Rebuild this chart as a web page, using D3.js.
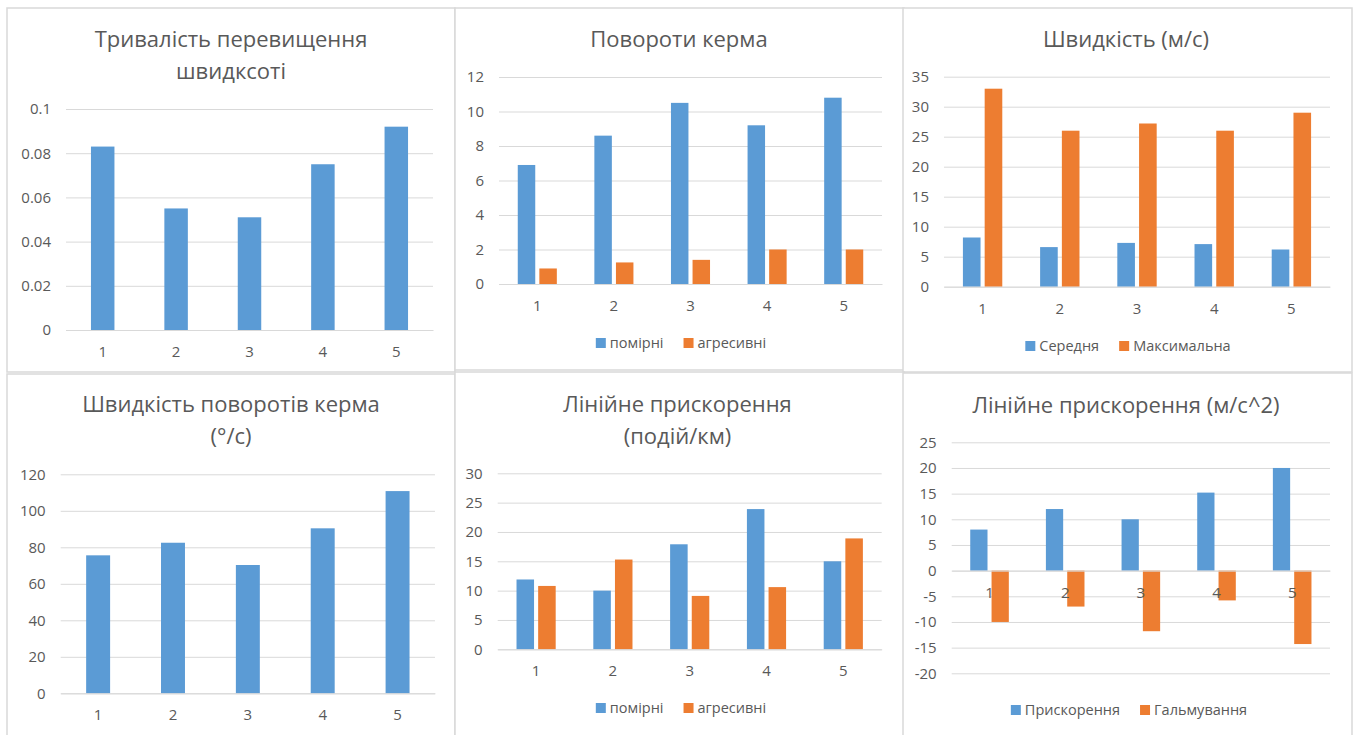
<!DOCTYPE html>
<html><head><meta charset="utf-8">
<script src="https://cdn.jsdelivr.net/npm/d3@7"></script>
<style>
html,body{margin:0;padding:0;background:#fff;}
svg{display:block;font-family:"Open Sans",sans-serif;}
</style></head>
<body>
<svg id="c" width="1357" height="735"></svg>
<script>
// ---- data ----
const categories = ["1","2","3","4","5"];

const overspeedTitle = ["Тривалість перевищення","швидксоті"];
const overspeedValues = [0.083, 0.055, 0.051, 0.075, 0.092];
const overspeedTicks = [0, 0.02, 0.04, 0.06, 0.08, 0.1];

const steerTitle = ["Повороти керма"];
const steerSeries = ["помірні","агресивні"];
const steerModerate = [6.9, 8.6, 10.5, 9.2, 10.8];
const steerAggressive = [0.9, 1.25, 1.4, 2.0, 2.0];
const steerTicks = [0, 2, 4, 6, 8, 10, 12];

const speedTitle = ["Швидкість (м/с)"];
const speedSeries = ["Середня","Максимальна"];
const speedAvg = [8.2, 6.6, 7.3, 7.1, 6.2];
const speedMax = [33, 26, 27.2, 26, 29];
const speedTicks = [0, 5, 10, 15, 20, 25, 30, 35];

const steerRateTitle = ["Швидкість поворотів керма","(°/с)"];
const steerRateValues = [75.6, 82.5, 70.3, 90.4, 110.8];
const steerRateTicks = [0, 20, 40, 60, 80, 100, 120];

const accelEvTitle = ["Лінійне прискорення","(подій/км)"];
const accelEvSeries = ["помірні","агресивні"];
const accelEvModerate = [11.9, 10, 17.9, 23.9, 15];
const accelEvAggressive = [10.8, 15.3, 9.1, 10.6, 18.9];
const accelEvTicks = [0, 5, 10, 15, 20, 25, 30];

const accelTitle = ["Лінійне прискорення (м/с^2)"];
const accelSeries = ["Прискорення","Гальмування"];
const accelPos = [8, 12, 10, 15.2, 20];
const accelNeg = [-10, -7, -11.8, -5.8, -14.3];
const accelTicks = [-20, -15, -10, -5, 0, 5, 10, 15, 20, 25];

// ---- style ----
const BLUE = "#5B9BD5", ORANGE = "#ED7D31", TXT = "#595959", GRID = "#d9d9d9";

const svg = d3.select("#c");

function panel(cfg){
  const g = svg.append("g");
  const [bx0, by0, bx1, by1] = cfg.box;
  g.append("rect").attr("x",bx0).attr("y",by0).attr("width",bx1-bx0).attr("height",by1-by0)
    .attr("fill","#fff").attr("stroke",GRID).attr("stroke-width",1.5);

  // title
  const cx = cfg.titleX;
  cfg.title.forEach((t,i)=>{
    g.append("text").attr("x",cx).attr("y",cfg.titleY + i*32)
      .attr("text-anchor","middle").attr("fill",TXT).attr("font-size",22).text(t);
  });

  const [px0, px1, pyTop, pyBot] = cfg.plot;
  const y = d3.scaleLinear().domain(d3.extent(cfg.ticks)).range([pyBot, pyTop]);
  const x = d3.scaleBand().domain(categories).range([px0, px1]).paddingInner(0).paddingOuter(0);

  // gridlines
  const yAxis = d3.axisLeft(y).tickValues(cfg.ticks).tickSize(-(px1-px0))
      .tickPadding(15).tickFormat(v => String(+v.toFixed(4)));
  const ya = g.append("g").attr("transform",`translate(${px0},0)`).call(yAxis);
  ya.select(".domain").remove();
  ya.selectAll(".tick line").attr("stroke",GRID).attr("stroke-width",1);
  ya.selectAll(".tick text").attr("fill",TXT).attr("font-size",15).attr("font-family","Open Sans");

  // bars
  const n = cfg.series.length;
  if(n === 1){
    const bw = x.bandwidth()*0.32;
    const vals = cfg.series[0].values;
    g.selectAll(null).data(vals).enter().append("rect")
      .attr("x",(d,i)=>x(categories[i]) + x.bandwidth()/2 - bw/2)
      .attr("width",bw)
      .attr("y",d=>y(Math.max(0,d)))
      .attr("height",d=>Math.abs(y(d)-y(0)))
      .attr("fill",cfg.series[0].color);
  } else {
    const w = x.bandwidth()*0.51;
    cfg.series.forEach((s,si)=>{
      g.selectAll(null).data(s.values).enter().append("rect")
        .attr("x",(d,i)=>{
          const c = x(categories[i]) + x.bandwidth()/2;
          const sub = d3.scaleBand().domain(cfg.series.map(q=>q.name)).range([c-w/2, c+w/2]).paddingInner(0.19).paddingOuter(0);
          return sub(s.name);
        })
        .attr("width",(w/(2-0.19))*(1-0.19))
        .attr("y",d=>y(Math.max(0,d)))
        .attr("height",d=>Math.abs(y(d)-y(0)))
        .attr("fill",s.color);
    });
  }

  // x axis
  const xAxis = d3.axisBottom(x).tickSize(0).tickPadding(0);
  const xa = g.append("g").attr("transform",`translate(0,${y(0)})`).call(xAxis);
  xa.select(".domain").attr("stroke",GRID);
  xa.selectAll(".tick text").attr("fill",TXT).attr("font-size",15).attr("font-family","Open Sans")
    .attr("dy",null).attr("y",27);

  // legend
  if(cfg.legendY){
    const lg = g.append("g");
    let xpos = 0;
    cfg.series.forEach((s,i)=>{
      const it = lg.append("g").attr("transform",`translate(${xpos},0)`);
      it.append("rect").attr("x",0).attr("y",-5).attr("width",10).attr("height",10).attr("fill",s.color);
      const t = it.append("text").attr("x",14).attr("y",5).attr("fill",TXT).attr("font-size",14.5).text(s.name);
      const tw = t.node().getComputedTextLength();
      xpos += 14 + tw + 20;
    });
    const total = xpos - 20;
    lg.attr("transform",`translate(${cfg.legendX - total/2},${cfg.legendY})`);
  }
}

panel({box:[7,8,455,372], title:overspeedTitle, titleX:231, titleY:47,
  plot:[66,433,109,330], ticks:overspeedTicks,
  series:[{name:"s",values:overspeedValues,color:BLUE}]});

panel({box:[455,8,904,370], title:steerTitle, titleX:679, titleY:47,
  plot:[499,882,77,284], ticks:steerTicks,
  series:[{name:steerSeries[0],values:steerModerate,color:BLUE},{name:steerSeries[1],values:steerAggressive,color:ORANGE}],
  legendX:681, legendY:343});

panel({box:[903,8,1352,372], title:speedTitle, titleX:1126, titleY:47,
  plot:[944,1330,76.7,286.7], ticks:speedTicks,
  series:[{name:speedSeries[0],values:speedAvg,color:BLUE},{name:speedSeries[1],values:speedMax,color:ORANGE}],
  legendX:1128, legendY:346});

panel({box:[7,374,455,740], title:steerRateTitle, titleX:231, titleY:412,
  plot:[60.7,435,474.3,693.3], ticks:steerRateTicks,
  series:[{name:"s",values:steerRateValues,color:BLUE}]});

panel({box:[455,372,904,740], title:accelEvTitle, titleX:677.5, titleY:412,
  plot:[497.7,881.7,473.3,649.3], ticks:accelEvTicks,
  series:[{name:accelEvSeries[0],values:accelEvModerate,color:BLUE},{name:accelEvSeries[1],values:accelEvAggressive,color:ORANGE}],
  legendX:681, legendY:708});

panel({box:[903,373,1352,740], title:accelTitle, titleX:1126, titleY:413,
  plot:[951.7,1330,442.3,673.3], ticks:accelTicks,
  series:[{name:accelSeries[0],values:accelPos,color:BLUE},{name:accelSeries[1],values:accelNeg,color:ORANGE}],
  legendX:1129, legendY:710});
</script>
</body></html>
